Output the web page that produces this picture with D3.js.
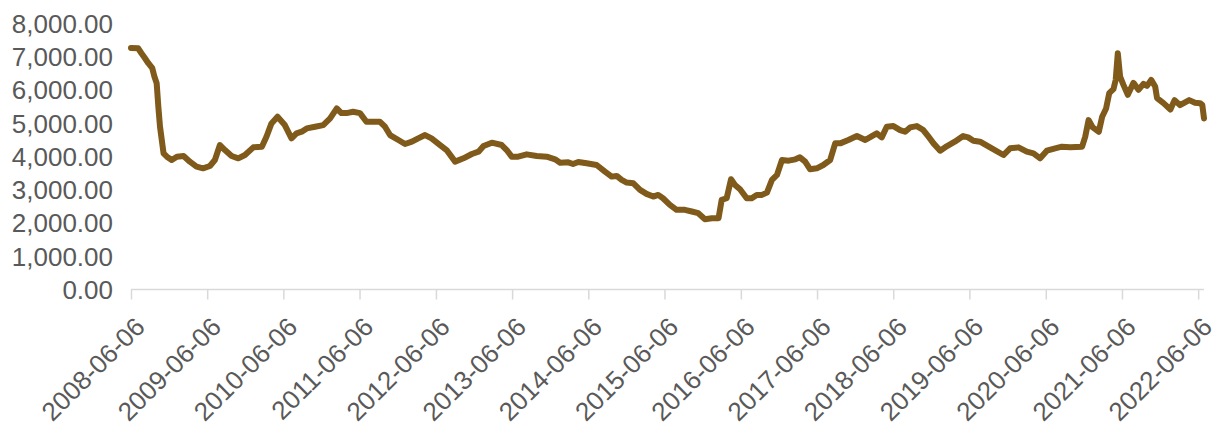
<!DOCTYPE html>
<html>
<head>
<meta charset="utf-8">
<script src="https://cdn.jsdelivr.net/npm/d3@7/dist/d3.min.js"></script>
<style>
	body { margin: 0; background: #ffffff; }
	svg text { font-family: "Liberation Sans", Arial, sans-serif; fill: #595959; }
</style>
</head>
<body>
<script>
// series
var dates = [
	"2008-06-06","2008-07-10","2008-07-26","2008-08-12","2008-08-28","2008-09-16","2008-09-26","2008-10-07","2008-10-15","2008-10-23",
	"2008-11-09","2008-11-25","2008-12-18","2009-01-12","2009-02-13","2009-03-15","2009-04-16","2009-05-17","2009-06-19","2009-07-13",
	"2009-08-06","2009-08-30","2009-10-01","2009-11-02","2009-12-04","2010-01-13","2010-02-23","2010-03-17","2010-04-10","2010-05-09",
	"2010-06-13","2010-07-15","2010-08-08","2010-09-02","2010-09-26","2010-11-05","2010-12-14","2011-01-16","2011-02-17","2011-03-11",
	"2011-04-05","2011-05-06","2011-06-08","2011-07-09","2011-09-12","2011-10-06","2011-10-30","2011-12-09","2012-01-10","2012-02-12",
	"2012-03-13","2012-04-15","2012-05-16","2012-06-26","2012-07-27","2012-09-06","2012-10-16","2012-11-25","2012-12-27","2013-01-20",
	"2013-03-01","2013-04-17","2013-05-11","2013-06-04","2013-07-05","2013-08-15","2013-10-02","2013-11-19","2013-12-29","2014-01-22",
	"2014-03-02","2014-03-25","2014-04-19","2014-05-29","2014-07-16","2014-08-25","2014-09-26","2014-10-20","2014-11-13","2014-12-07",
	"2015-01-08","2015-02-09","2015-03-12","2015-04-13","2015-05-07","2015-05-30","2015-07-02","2015-08-03","2015-09-12","2015-10-15",
	"2015-11-15","2015-12-17","2016-01-19","2016-02-20","2016-03-06","2016-03-30","2016-04-20","2016-05-09","2016-06-02","2016-07-04",
	"2016-07-28","2016-08-21","2016-09-15","2016-10-09","2016-11-02","2016-11-26","2016-12-20","2017-01-21","2017-02-22","2017-03-16",
	"2017-04-10","2017-05-04","2017-06-05","2017-07-06","2017-08-08","2017-09-01","2017-09-25","2017-11-03","2017-12-14","2018-01-23",
	"2018-02-24","2018-03-19","2018-04-12","2018-05-06","2018-06-07","2018-07-09","2018-08-02","2018-08-26","2018-09-27","2018-10-28",
	"2018-11-22","2018-12-16","2019-01-17","2019-02-19","2019-03-28","2019-05-07","2019-05-31","2019-06-25","2019-07-27","2019-09-13",
	"2019-11-16","2019-12-18","2020-01-27","2020-03-07","2020-04-08","2020-05-10","2020-06-11","2020-07-21","2020-08-22","2020-10-01",
	"2020-11-27","2020-12-12","2020-12-28","2021-01-17","2021-02-15","2021-03-03","2021-03-22","2021-04-06","2021-04-26","2021-05-07",
	"2021-05-17","2021-05-28","2021-06-13","2021-07-04","2021-07-31","2021-08-24","2021-09-17","2021-10-04","2021-10-24","2021-11-12",
	"2021-11-21","2021-12-22","2022-01-24","2022-02-13","2022-03-11","2022-04-24","2022-05-22","2022-06-15","2022-06-26","2022-07-04"
];
var values = [
	7250,7240,7090,6940,6790,6640,6390,6190,5480,4880,
	4080,3980,3880,3980,4000,3830,3680,3630,3700,3880,
	4330,4180,4000,3930,4030,4260,4280,4580,4980,5180,
	4930,4530,4680,4730,4830,4880,4930,5130,5430,5290,
	5290,5330,5290,5030,5030,4880,4630,4480,4360,4430,
	4530,4630,4530,4330,4180,3830,3930,4060,4130,4300,
	4400,4330,4180,3980,3980,4050,4000,3980,3900,3800,
	3810,3760,3820,3780,3730,3530,3380,3400,3280,3200,
	3180,2980,2860,2780,2830,2730,2530,2380,2380,2330,
	2280,2100,2130,2130,2680,2730,3300,3130,3000,2730,
	2730,2830,2830,2900,3280,3430,3880,3860,3900,3960,
	3830,3600,3630,3730,3880,4380,4380,4480,4600,4480,
	4600,4680,4560,4880,4900,4780,4730,4860,4900,4780,
	4580,4380,4160,4300,4430,4600,4560,4460,4430,4260,
	4030,4230,4260,4130,4080,3930,4160,4230,4280,4260,
	4280,4580,5080,4860,4730,5180,5430,5890,6010,6290,
	7090,6390,6140,5840,6200,5990,6170,6110,6290,6090,
	5740,5590,5400,5680,5530,5680,5600,5590,5530,5130
];
var xTickLabels = ["2008-06-06","2009-06-06","2010-06-06","2011-06-06","2012-06-06","2013-06-06","2014-06-06",
	"2015-06-06","2016-06-06","2017-06-06","2018-06-06","2019-06-06","2020-06-06","2021-06-06","2022-06-06"];
var yTicks = [0, 1000, 2000, 3000, 4000, 5000, 6000, 7000, 8000];
var xStart = "2008-06-06", xEnd = "2022-07-04";

var width = 1220, height = 429;
var parse = d3.timeParse("%Y-%m-%d");

var svg = d3.select("body").append("svg").attr("width", width).attr("height", height);

var x = d3.scaleTime()
	.domain([parse(xStart), parse(xEnd)])
	.range([131, 1204]);

var y = d3.scaleLinear()
	.domain([0, 8000])
	.range([289, 23]);

// y labels only, no axis line
var yAxis = svg.append("g")
	.attr("transform", "translate(113,0)")
	.call(d3.axisLeft(y).tickValues(yTicks).tickSize(0).tickPadding(0).tickFormat(d3.format(",.2f")));
yAxis.select(".domain").remove();
yAxis.selectAll("text")
	.style("font-size", "26px")
	.attr("dy", "0.36em");

// x axis
var xAxis = svg.append("g")
	.attr("transform", "translate(0,289.5)")
	.call(d3.axisBottom(x).tickValues(xTickLabels.map(parse)).tickSize(10).tickFormat(d3.timeFormat("%Y-%m-%d")));
xAxis.select(".domain")
	.attr("d", "M131,0H1204")
	.attr("stroke", "#d9d9d9")
	.attr("stroke-width", 1.5);
xAxis.selectAll(".tick line")
	.attr("stroke", "#d9d9d9")
	.attr("stroke-width", 1.5);
xAxis.selectAll(".tick text")
	.style("font-size", "26px")
	.attr("text-anchor", "end")
	.attr("x", 0).attr("y", 0).attr("dy", 0)
	.attr("transform", "translate(15,39) rotate(-45)");

var data = dates.map(function(d, i) { return {date: parse(d), value: values[i]}; });

var line = d3.line()
	.x(function(d) { return x(d.date); })
	.y(function(d) { return y(d.value); })
	.curve(d3.curveLinear);

svg.append("path")
	.datum(data)
	.attr("fill", "none")
	.attr("stroke", "#7f5a1a")
	.attr("stroke-width", 6)
	.attr("stroke-linejoin", "round")
	.attr("stroke-linecap", "round")
	.attr("d", line);
</script>
</body>
</html>
